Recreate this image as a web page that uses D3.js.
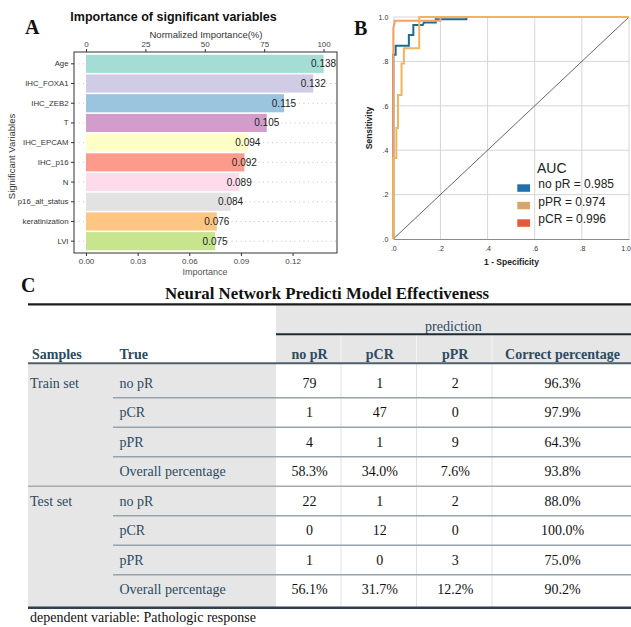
<!DOCTYPE html>
<html>
<head>
<meta charset="utf-8">
<script src="https://cdn.jsdelivr.net/npm/d3@7/dist/d3.min.js"></script>
<style>
  html, body { margin: 0; padding: 0; background: #fff; }
  svg { display: block; }
</style>
</head>
<body>
<svg id="chart" width="631" height="627"></svg>
<script>
// ---------------- DATA ----------------
// Panel A
const variables = ["Age","IHC_FOXA1","IHC_ZEB2","T","IHC_EPCAM","IHC_p16","N","p16_alt_status","keratinization","LVI"];
const importance = [0.138,0.132,0.115,0.105,0.094,0.092,0.089,0.084,0.076,0.075];
const barColors = ["#a3ddd5","#d0cce6","#9bc4df","#d39dcb","#feffc6","#fc9b8c","#fedbeb","#e2e2e2","#fec682","#c6e58c"];
const importanceTicks = [0.00,0.03,0.06,0.09,0.12];
const normalizedTicks = [0,25,50,75,100];

// Panel B (ROC vertices: [1 - specificity, sensitivity])
const rocNoPR = [[0,0],[0,0.83],[0.01,0.83],[0.01,0.871],[0.066,0.871],[0.066,0.919],[0.085,0.919],[0.085,0.964],[0.125,0.964],[0.13,0.975],[0.18,0.975],[0.18,0.99],[0.31,0.99],[0.31,1],[1,1]];
const rocPCR = [[0,0],[0,0.95],[0.006,0.975],[0.006,0.983],[0.2,0.983],[0.2,1],[1,1]];
const rocPPR = [[0,0],[0,0.365],[0.013,0.365],[0.013,0.5],[0.02,0.5],[0.02,0.649],[0.035,0.649],[0.035,0.791],[0.045,0.791],[0.045,0.859],[0.11,0.859],[0.11,1],[1,1]];
const rocLabels = ["no pR = 0.985","pPR = 0.974","pCR = 0.996"];
const rocTicks = [0,0.2,0.4,0.6,0.8,1.0];

// Panel C
const tableTitle = "Neural Network Predicti Model Effectiveness";
const predColumns = ["no pR","pCR","pPR","Correct percentage"];
const trueClasses = ["no pR","pCR","pPR","Overall percentage"];
const sampleSets = ["Train set","Test set"];
const trainValues = [["79","1","2","96.3%"],["1","47","0","97.9%"],["4","1","9","64.3%"],["58.3%","34.0%","7.6%","93.8%"]];
const testValues  = [["22","1","2","88.0%"],["0","12","0","100.0%"],["1","0","3","75.0%"],["56.1%","31.7%","12.2%","90.2%"]];
const footnote = "dependent variable: Pathologic response";

// ---------------- DRAW ----------------
const svg = d3.select("#chart");
svg.append("rect").attr("width",631).attr("height",627).attr("fill","#fff");
const SANS = "'Liberation Sans', Arial, Helvetica, sans-serif";
const SERIF = "'Liberation Serif', 'Times New Roman', serif";

// ===== Panel A =====
const A = svg.append("g");
const ax = d3.scaleLinear().domain([-0.00697, 0.1458]).range([74, 337]);
const axTop = d3.scaleLinear().domain([-0.00697/0.138*100, 0.1458/0.138*100]).range([74, 337]);
const ay = d3.scaleBand().domain(variables).range([52, 253]).paddingInner(0.08).paddingOuter(0.14);

// dotted grid
A.selectAll("line.grid").data(variables).join("line")
  .attr("x1",74).attr("x2",337)
  .attr("y1",d=>ay(d)+ay.bandwidth()/2).attr("y2",d=>ay(d)+ay.bandwidth()/2)
  .attr("stroke","#b8b8b8").attr("stroke-width",0.8).attr("stroke-dasharray","1,3.5");

A.selectAll("rect.bar").data(variables).join("rect")
  .attr("x",ax(0)).attr("y",d=>ay(d))
  .attr("width",(d,i)=>ax(importance[i])-ax(0))
  .attr("height",ay.bandwidth())
  .attr("fill",(d,i)=>barColors[i]);

A.selectAll("text.val").data(variables).join("text")
  .attr("x",(d,i)=>ax(importance[i]))
  .attr("y",d=>ay(d)+ay.bandwidth()/2+3.5)
  .attr("text-anchor","middle")
  .attr("font-family",SANS).attr("font-size",10).attr("fill","#222")
  .text((d,i)=>importance[i].toFixed(3));

A.append("rect").attr("x",74).attr("y",52).attr("width",263).attr("height",201)
  .attr("fill","none").attr("stroke","#333").attr("stroke-width",1);

const gxb = A.append("g").attr("transform","translate(0,253)")
  .call(d3.axisBottom(ax).tickValues(importanceTicks).tickFormat(d3.format(".2f")).tickSize(3).tickPadding(2));
const gxt = A.append("g").attr("transform","translate(0,52)")
  .call(d3.axisTop(axTop).tickValues(normalizedTicks).tickSize(3).tickPadding(2));
const gyl = A.append("g").attr("transform","translate(74,0)")
  .call(d3.axisLeft(ay).tickSize(3).tickPadding(2.5));
[gxb,gxt,gyl].forEach(g=>{
  g.select(".domain").remove();
  g.selectAll(".tick line").attr("stroke","#333");
  g.selectAll(".tick text").attr("font-family",SANS).attr("fill","#444");
});
gxb.selectAll(".tick text").attr("font-size",8);
gxt.selectAll(".tick text").attr("font-size",8);
gyl.selectAll(".tick text").attr("font-size",7.8).attr("fill","#333");

A.append("text").attr("x",173.5).attr("y",20.7).attr("text-anchor","middle")
  .attr("font-family",SANS).attr("font-weight","bold").attr("font-size",12.5).attr("fill","#111")
  .text("Importance of significant variables");
A.append("text").attr("x",206).attr("y",37.5).attr("text-anchor","middle")
  .attr("font-family",SANS).attr("font-size",9.5).attr("fill","#333")
  .text("Normalized Importance(%)");
A.append("text").attr("x",205).attr("y",275).attr("text-anchor","middle")
  .attr("font-family",SANS).attr("font-size",9).attr("fill","#555")
  .text("Importance");
A.append("text").attr("transform","translate(14.5,156.5) rotate(-90)").attr("text-anchor","middle")
  .attr("font-family",SANS).attr("font-size",9.5).attr("fill","#333")
  .text("Significant Variables");
A.append("text").attr("x",25).attr("y",34).attr("font-family",SERIF).attr("font-weight","bold")
  .attr("font-size",20).attr("fill","#111").text("A");

// ===== Panel B =====
const B = svg.append("g");
const bx = d3.scaleLinear().domain([0,1]).range([393.3, 629]);
const by = d3.scaleLinear().domain([0,1]).range([239, 17]);
const tf = d => d===1 ? "1.0" : d3.format(".1f")(d).replace(/^0/,"");

B.selectAll("line.vg").data(rocTicks.slice(1)).join("line")
  .attr("x1",d=>bx(d)).attr("x2",d=>bx(d)).attr("y1",by(0)).attr("y2",by(1))
  .attr("stroke","#d6d6d6").attr("stroke-width",1);
B.selectAll("line.hg").data(rocTicks.slice(1)).join("line")
  .attr("x1",bx(0)).attr("x2",bx(1)).attr("y1",d=>by(d)).attr("y2",d=>by(d))
  .attr("stroke","#d6d6d6").attr("stroke-width",1);

const gbx = B.append("g").attr("transform",`translate(0,${by(0)})`)
  .call(d3.axisBottom(bx).tickValues(rocTicks).tickFormat(tf).tickSize(0).tickPadding(7));
const gby = B.append("g").attr("transform",`translate(${bx(0)},0)`)
  .call(d3.axisLeft(by).tickValues(rocTicks).tickFormat(tf).tickSize(0).tickPadding(5));
gbx.select(".domain").attr("stroke","#8a8a8a").attr("stroke-width",1.2);
gby.select(".domain").attr("stroke","#cfcfcf");
[gbx,gby].forEach(g=>g.selectAll(".tick text").attr("font-family",SANS).attr("font-size",7).attr("fill","#333"));
// keep the last x tick label inside the picture
gbx.selectAll(".tick text").filter(d=>d===1).attr("text-anchor","end").attr("dx",1.5);

B.append("line").attr("x1",bx(0)).attr("y1",by(0)).attr("x2",bx(1)).attr("y2",by(1))
  .attr("stroke","#555").attr("stroke-width",0.9);

const line = d3.line().x(d=>bx(d[0])).y(d=>by(d[1]));
[[rocNoPR,"#1e6b8c"],[rocPCR,"#f6a064"],[rocPPR,"#f1b45e"]].forEach(([data,c])=>{
  B.append("path").attr("d",line(data)).attr("fill","none").attr("stroke",c)
   .attr("stroke-width",2).attr("stroke-linejoin","miter");
});

B.append("text").attr("transform","translate(372,128) rotate(-90)").attr("text-anchor","middle")
  .attr("font-family",SANS).attr("font-weight","bold").attr("font-size",8.5).attr("fill","#222")
  .text("Sensitivity");
B.append("text").attr("x",511.5).attr("y",265).attr("text-anchor","middle")
  .attr("font-family",SANS).attr("font-weight","bold").attr("font-size",8.5).attr("fill","#222")
  .text("1 - Specificity");
B.append("text").attr("x",354).attr("y",35).attr("font-family",SERIF).attr("font-weight","bold")
  .attr("font-size",20).attr("fill","#111").text("B");

// legend
const legendColors = ["#2070ad","#d6a76a","#e25c39"];
B.append("text").attr("x",537).attr("y",173.3).attr("font-family",SANS).attr("font-size",14).attr("fill","#222").text("AUC");
rocLabels.forEach((lab,i)=>{
  const yb = 188.3 + i*17.5;
  B.append("rect").attr("x",517.3).attr("y",yb-4).attr("width",12.7).attr("height",7.5).attr("fill",legendColors[i]);
  B.append("text").attr("x",538.3).attr("y",yb).attr("font-family",SANS).attr("font-size",12).attr("fill","#222").text(lab);
});

// ===== Panel C =====
const C = svg.append("g");
const colX = [276, 341, 416.5, 492, 631];
const leftX = 28;
const rowStep = 29.5;
const firstRowCenter = 383;
const bodyTop = 363.3;
const bodyBottom = firstRowCenter + 8*rowStep - rowStep/2 + 3.5;

// grey areas
C.append("rect").attr("x",colX[0]).attr("y",304.3).attr("width",631-colX[0]).attr("height",bodyTop-304.3).attr("fill","#e6e6e6");
C.append("rect").attr("x",leftX).attr("y",bodyTop).attr("width",colX[0]-leftX).attr("height",bodyBottom-bodyTop).attr("fill","#e6e6e6");
// vertical separators
colX.slice(1,4).forEach(x=>{
  C.append("line").attr("x1",x).attr("x2",x).attr("y1",334.3).attr("y2",bodyTop).attr("stroke","#f4f4f4").attr("stroke-width",1);
  C.append("line").attr("x1",x).attr("x2",x).attr("y1",bodyTop).attr("y2",bodyBottom).attr("stroke","#e2e2e2").attr("stroke-width",1);
});

C.append("text").attr("x",21).attr("y",292).attr("font-family",SERIF).attr("font-weight","bold")
  .attr("font-size",20).attr("fill","#111").text("C");
C.append("text").attr("x",327).attr("y",298.5).attr("text-anchor","middle")
  .attr("font-family",SERIF).attr("font-weight","bold").attr("font-size",16).attr("fill","#111")
  .attr("textLength",324).attr("lengthAdjust","spacingAndGlyphs").text(tableTitle);

C.append("line").attr("x1",leftX).attr("x2",631).attr("y1",304.3).attr("y2",304.3).attr("stroke","#1c1c1c").attr("stroke-width",2.2);
C.append("text").attr("x",(colX[0]+631)/2).attr("y",330.5).attr("text-anchor","middle")
  .attr("font-family",SERIF).attr("font-size",14).attr("fill","#2c4a5f").text("prediction");
C.append("line").attr("x1",colX[0]).attr("x2",631).attr("y1",334.3).attr("y2",334.3).attr("stroke","#1e2b34").attr("stroke-width",2);

const headColor = "#2c4a5f";
C.append("text").attr("x",32).attr("y",358.5).attr("font-family",SERIF).attr("font-weight","bold").attr("font-size",14).attr("fill",headColor).text("Samples");
C.append("text").attr("x",119.5).attr("y",358.5).attr("font-family",SERIF).attr("font-weight","bold").attr("font-size",14).attr("fill",headColor).text("True");
predColumns.forEach((c,i)=>{
  C.append("text").attr("x",(colX[i]+colX[i+1])/2+1).attr("y",358.5).attr("text-anchor","middle")
    .attr("font-family",SERIF).attr("font-weight","bold").attr("font-size",14).attr("fill",headColor).text(c);
});
C.append("line").attr("x1",leftX).attr("x2",631).attr("y1",bodyTop).attr("y2",bodyTop).attr("stroke","#4b5f6d").attr("stroke-width",2);

[trainValues,testValues].forEach((vals,s)=>{
  vals.forEach((row,r)=>{
    const k = s*4 + r;
    const cy = firstRowCenter + k*rowStep;
    if (r===0) {
      C.append("text").attr("x",30).attr("y",cy+4.5).attr("font-family",SERIF).attr("font-size",14).attr("fill","#2c4a5f").text(sampleSets[s]);
    }
    C.append("text").attr("x",119.5).attr("y",cy+4.5).attr("font-family",SERIF).attr("font-size",14).attr("fill","#2c4a5f").text(trueClasses[r]);
    row.forEach((v,j)=>{
      C.append("text").attr("x",(colX[j]+colX[j+1])/2+1).attr("y",cy+4.5).attr("text-anchor","middle")
        .attr("font-family",SERIF).attr("font-size",14).attr("fill","#111").text(v);
    });
    const ly = cy + rowStep/2;
    if (k===7) return;
    if (r<3) {
      C.append("line").attr("x1",113).attr("x2",631).attr("y1",ly).attr("y2",ly).attr("stroke","#95a3ad").attr("stroke-width",1.5);
    } else {
      C.append("line").attr("x1",leftX).attr("x2",631).attr("y1",ly).attr("y2",ly).attr("stroke","#a3abb1").attr("stroke-width",1.5);
    }
  });
});
C.append("line").attr("x1",leftX).attr("x2",631).attr("y1",bodyBottom).attr("y2",bodyBottom).attr("stroke","#2f3f4b").attr("stroke-width",2.5);
C.append("text").attr("x",30).attr("y",622).attr("font-family",SERIF).attr("font-size",14).attr("fill","#111").text(footnote);
</script>
</body>
</html>
